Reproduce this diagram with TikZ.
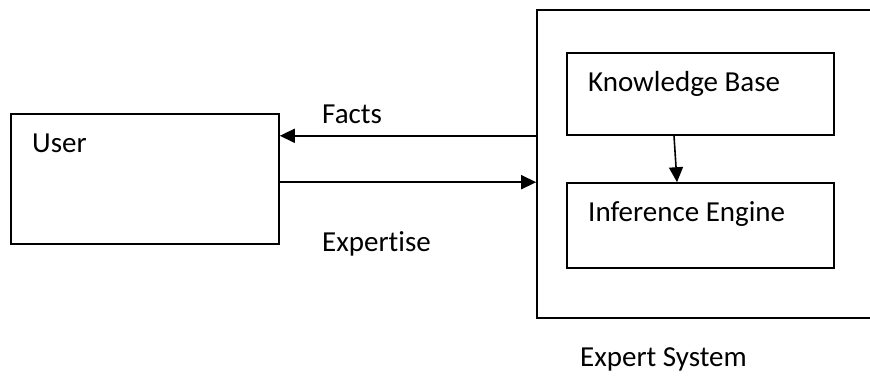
\documentclass[tikz,border=0pt]{standalone}
\usepackage{fontspec}
\setmainfont{Carlito}[Ligatures=NoCommon]
\usetikzlibrary{arrows.meta}

\tikzset{
  blk/.style={draw, line width=1.6pt, inner sep=0pt},
  txt/.style={anchor=base west, inner sep=0pt, font=\fontsize{29}{35}\selectfont},
  flow/.style={line width=1.6pt, -{Triangle[length=15pt,width=14pt]}}
}

\begin{document}
\begin{tikzpicture}[x=1pt, y=1pt]
      \useasboundingbox (0,0) rectangle (870,385);

      % boxes (the outer one runs off the right edge)
      \node[blk, minimum width=268pt, minimum height=130pt] (user) at (145,206) {};
      \node[blk, minimum width=335pt, minimum height=308pt] (es) at (704.5,221) {};
      \node[blk, minimum width=267pt, minimum height=82pt] (kb) at (700.5,291) {};
      \node[blk, minimum width=267pt, minimum height=85pt] (ie) at (700.5,159.5) {};

      \node[txt] (userlbl) at (32,232) {User};
      \node[txt] (kblbl) at (588,293) {Knowledge Base};
      \node[txt] (ielbl) at (588,163) {Inference Engine};
      \node[txt] (factslbl) at (322,261) {Facts};
      \node[txt] (explbl) at (322,133) {Expertise};
      \node[txt] (eslbl) at (580,18) {Expert System};

      \draw[flow] (es.west |- kb.south) -- (user.east |- kb.south);
      \draw[flow] (user.east |- ie.north) -- (es.west |- ie.north);
      \draw[flow] ([xshift=-26.5pt]kb.south) -- ([xshift=-23.5pt]ie.north);
    \end{tikzpicture}
\end{document}
